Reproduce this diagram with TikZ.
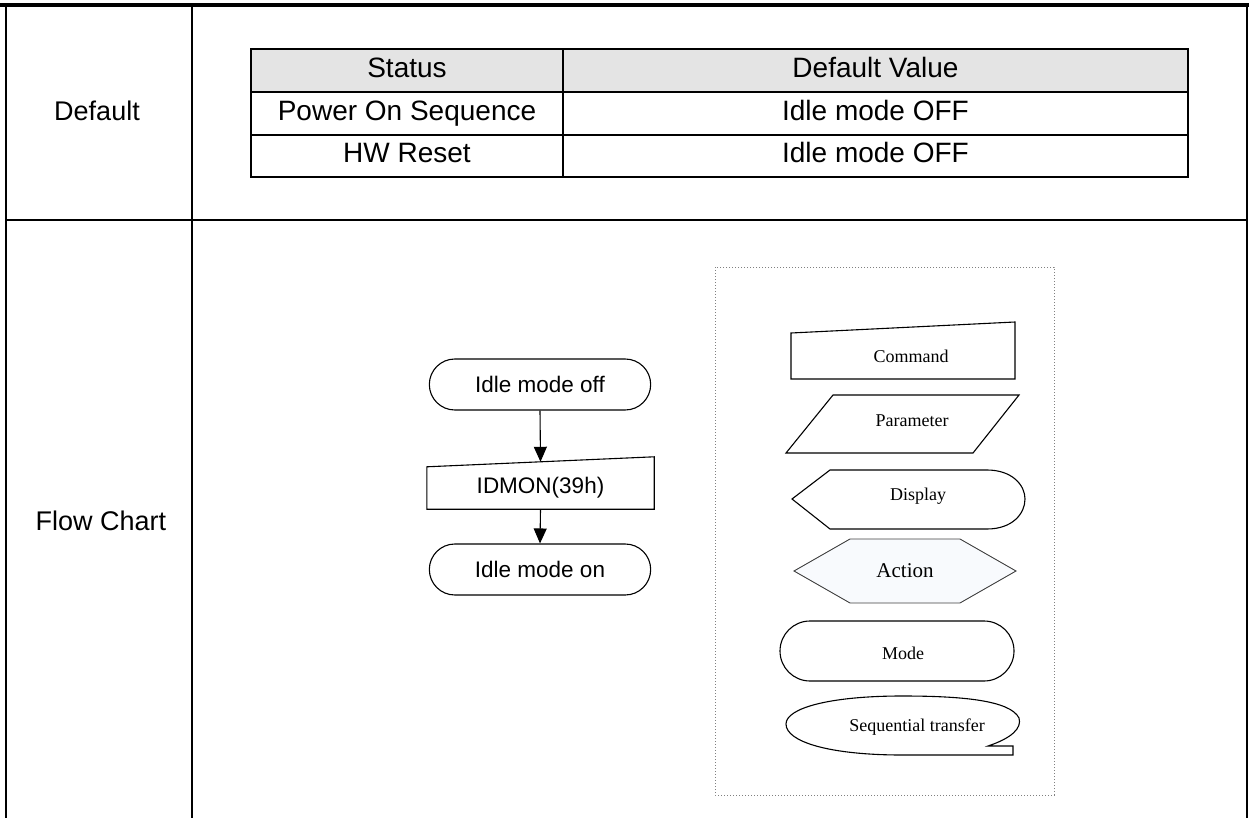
\documentclass[tikz,border=0pt]{standalone}
\usepackage{fontspec}
\setmainfont{Liberation Sans}
\newfontfamily\legendfont{Liberation Serif}
\usepackage{tikz}
\usetikzlibrary{shapes,arrows.meta,positioning,calc}

\definecolor{hdrgray}{HTML}{E4E4E4}
\definecolor{actfill}{HTML}{F8FAFD}

\tikzset{
    lbltext/.style={font=\fontsize{27}{29}\selectfont},
    tbltext/.style={font=\fontsize{28}{30}\selectfont, text height=20pt, text depth=6pt},
    flowtext/.style={font=\fontsize{22.5}{24}\selectfont},
    legtext/.style={font=\legendfont\fontsize{18}{20}\selectfont},
    terminal/.style={rounded rectangle, draw, line width=1.1pt,
        minimum width=228pt, minimum height=51pt, flowtext},
    flowarrow/.style={line width=1.1pt, -{Triangle[length=15pt,width=13pt]}},
    symline/.style={line width=1.1pt}
}

\begin{document}
\begin{tikzpicture}[x=1pt, y=-1pt]
    \useasboundingbox (0,0) rectangle (1249,818);

    % outer frame
    \draw[line width=4pt] (0,5) -- (1249,5);
    \draw[line width=2pt] (6,5) -- (6,818);
    \draw[line width=2pt] (192,5) -- (192,818);
    \draw[line width=2pt] (1247,5) -- (1247,818);
    \draw[line width=2pt] (6,220) -- (1247,220);

    \node[lbltext] (lbldefault) at (97,111) {Default};
    \node[lbltext] (lblflow) at (101,521) {Flow Chart};

    % default value table
    \fill[hdrgray] (251,49) rectangle (1188,92);
    \begin{scope}[line width=2pt]
        \draw (251,49) rectangle (563,92) node[midway, tbltext] (hstatus) {Status};
        \draw (563,49) rectangle (1188,92) node[midway, tbltext] (hvalue) {Default Value};
        \draw (251,92) rectangle (563,135) node[midway, tbltext] (pwrseq) {Power On Sequence};
        \draw (563,92) rectangle (1188,135) node[midway, tbltext] (pwrval) {Idle mode OFF};
        \draw (251,135) rectangle (563,177) node[midway, tbltext] (hwrst) {HW Reset};
        \draw (563,135) rectangle (1188,177) node[midway, tbltext] (hwval) {Idle mode OFF};
    \end{scope}

    % flow chart
    \node[terminal] (idleoff) at (540,384.5) {Idle mode off};
    \node[minimum width=227pt, minimum height=42pt, inner sep=0pt, flowtext]
        (idmon) at (540.5,488) {IDMON(39h)};
    \draw[symline] (idmon.south west) -- (idmon.north west)
        -- ([yshift=10pt]idmon.north east) -- (idmon.south east) -- cycle;
    \node[terminal] (idleon) at (540,569.5) {Idle mode on};

    \draw[flowarrow] (idleoff.south) -- ([yshift=5pt]idmon.north);
    \draw[flowarrow] (idmon.south) -- (idleon.north);

    % legend
    \draw[gray, dotted, line width=1pt] (715,267) rectangle (1054,795);

    \draw[symline] (791,379) -- (791,333) -- (1015,322) -- (1015,379) -- cycle;
    \node[legtext] (legcmd) at (911,356) {Command};

    \draw[symline] (786,453) -- (833,395) -- (1019,395) -- (973,453) -- cycle;
    \node[legtext] (legpar) at (912,421) {Parameter};

    \draw[symline] (792,499) -- (830,470) -- (987,470)
        .. controls (1012,470) and (1025,485) .. (1025,499)
        .. controls (1025,514) and (1012,529) .. (987,529)
        -- (830,529) -- cycle;
    \node[legtext] (legdisp) at (918,496) {Display};

    \draw[line width=0.9pt, draw=black!75, fill=actfill]
        (794,571) -- (850,539) -- (960,539) -- (1016,571) -- (960,603) -- (850,603) -- cycle;
    \node[legtext, font=\legendfont\fontsize{21}{23}\selectfont] (legact) at (905,571) {Action};

    \draw[symline, rounded corners=30pt] (780,621) rectangle (1014,681);
    \node[legtext] (legmode) at (903,653) {Mode};

    \draw[symline] (1013,755) -- (1013,746) -- (988,746)
        .. controls (1012,738) and (1022,728) .. (1019,718)
        .. controls (1010,700) and (960,696) .. (902,696)
        .. controls (830,696) and (786,708) .. (786,724)
        .. controls (786,742) and (830,755) .. (902,755)
        -- cycle;
    \node[legtext] (legseq) at (917,727) {Sequential transfer};
\end{tikzpicture}
\end{document}
